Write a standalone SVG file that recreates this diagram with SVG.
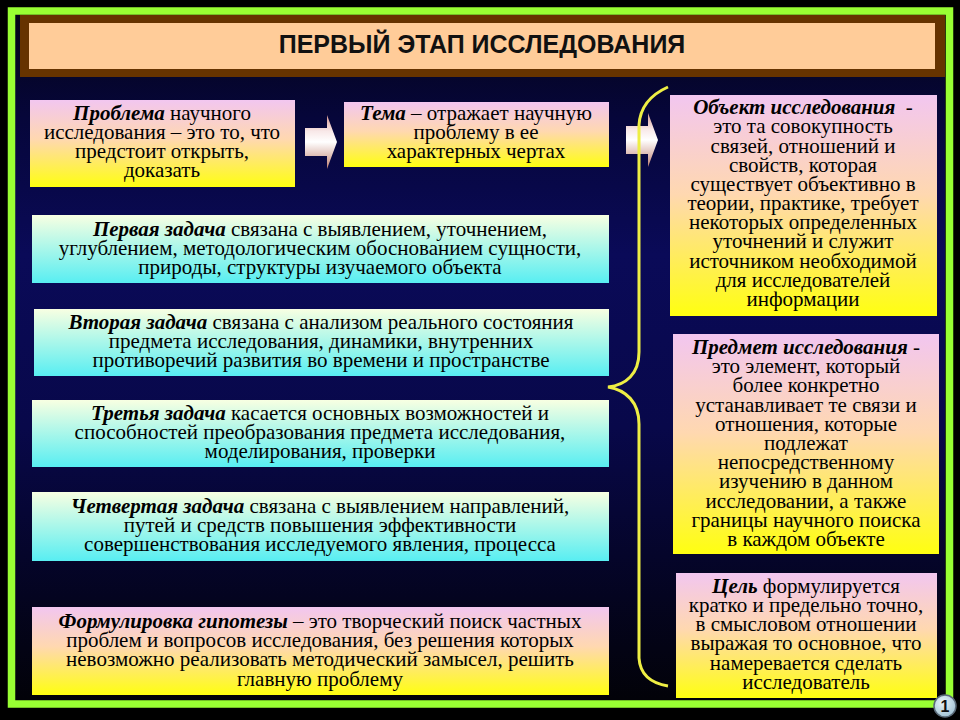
<svg xmlns="http://www.w3.org/2000/svg" width="960" height="720" viewBox="0 0 960 720">
<defs>
<linearGradient id="bg" gradientUnits="userSpaceOnUse" x1="0" y1="15" x2="0" y2="700">
<stop offset="0" stop-color="#040418"/>
<stop offset="0.15" stop-color="#06063a"/>
<stop offset="0.35" stop-color="#0a0a58"/>
<stop offset="0.6" stop-color="#08084a"/>
<stop offset="0.85" stop-color="#040420"/>
<stop offset="1" stop-color="#020208"/>
</linearGradient>
<linearGradient id="yel" x1="0" y1="0" x2="0" y2="1">
<stop offset="0" stop-color="#f2c6f0"/>
<stop offset="0.45" stop-color="#ffd8b0"/>
<stop offset="1" stop-color="#ffff10"/>
</linearGradient>
<linearGradient id="cyan" x1="0" y1="0" x2="0" y2="1">
<stop offset="0" stop-color="#f8ffe2"/>
<stop offset="1" stop-color="#58eef2"/>
</linearGradient>
<linearGradient id="arr" x1="0" y1="0" x2="0" y2="1">
<stop offset="0" stop-color="#d89890"/>
<stop offset="0.3" stop-color="#f8e8e8"/>
<stop offset="0.5" stop-color="#ffffff"/>
<stop offset="1" stop-color="#c08070"/>
</linearGradient>
<radialGradient id="badge" cx="0.4" cy="0.35" r="0.7">
<stop offset="0" stop-color="#e8f4fa"/>
<stop offset="1" stop-color="#9fc0d2"/>
</radialGradient>
<path id="arrow" d="M0,-14 L22,-14 L22,-27 L32,0 L22,27 L22,14 L0,14 Z"/>
</defs>
<style>
.t{font-family:"Liberation Serif","Times New Roman",serif;font-size:21px;fill:#000;text-anchor:middle}
.b{font-weight:bold;font-style:italic}
.title{font-family:"Liberation Sans",Arial,sans-serif;font-size:25px;font-weight:bold;fill:#111;text-anchor:middle}
.yb{fill:url(#yel)}
.cb{fill:url(#cyan)}
</style>
<rect x="0" y="0" width="960" height="720" fill="#000"/>
<rect x="15" y="15" width="930" height="685" fill="url(#bg)"/>
<rect x="11.5" y="11" width="938" height="693" fill="none" stroke="#99ff33" stroke-width="7.5"/>
<g id="title">
<rect x="20" y="15" width="925" height="62" fill="#663300"/>
<rect x="29" y="23" width="906" height="46" fill="#ffcc99"/>
<text class="title" x="482" y="53">ПЕРВЫЙ ЭТАП ИССЛЕДОВАНИЯ</text>
</g>
<g id="connectors">
<use href="#arrow" x="305" y="142" fill="url(#arr)"/>
<use href="#arrow" x="626" y="140" fill="url(#arr)"/>
<path d="M668,87 C650,95 640,108 639,125 L639,352 C639,374 626,385 608,387 C626,390 639,402 639,424 L639,658 C640,674 650,683 668,686" fill="none" stroke="#eeee44" stroke-width="3"/>
</g>
<g id="problem">
<rect class="yb" x="30" y="100" width="265" height="87"/>
<text class="t"><tspan x="162" y="120"><tspan class="b">Проблема</tspan> научного</tspan><tspan x="162" y="139">исследования – это то, что</tspan><tspan x="162" y="158">предстоит открыть,</tspan><tspan x="162" y="177">доказать</tspan></text>
</g>
<g id="tema">
<rect class="yb" x="344" y="102" width="265" height="65"/>
<text class="t"><tspan x="476" y="120"><tspan class="b">Тема</tspan> – отражает научную</tspan><tspan x="476" y="139">проблему в ее</tspan><tspan x="476" y="158">характерных чертах</tspan></text>
</g>
<g id="object">
<rect class="yb" x="670" y="95" width="267" height="221"/>
<text class="t"><tspan x="803" y="114"><tspan class="b">Объект исследования</tspan>&#160; -</tspan><tspan x="803" y="133">это та совокупность</tspan><tspan x="803" y="153">связей, отношений и</tspan><tspan x="803" y="172">свойств, которая</tspan><tspan x="803" y="191">существует объективно в</tspan><tspan x="803" y="210">теории, практике, требует</tspan><tspan x="803" y="229">некоторых определенных</tspan><tspan x="803" y="248">уточнений и служит</tspan><tspan x="803" y="268">источником необходимой</tspan><tspan x="803" y="287">для исследователей</tspan><tspan x="803" y="306">информации</tspan></text>
</g>
<g id="subject">
<rect class="yb" x="673" y="334" width="266" height="220"/>
<text class="t"><tspan x="806" y="354"><tspan class="b">Предмет исследования</tspan> -</tspan><tspan x="806" y="373">это элемент, который</tspan><tspan x="806" y="392">более конкретно</tspan><tspan x="806" y="412">устанавливает те связи и</tspan><tspan x="806" y="431">отношения, которые</tspan><tspan x="806" y="450">подлежат</tspan><tspan x="806" y="469">непосредственному</tspan><tspan x="806" y="488">изучению в данном</tspan><tspan x="806" y="508">исследовании, а также</tspan><tspan x="806" y="527">границы научного поиска</tspan><tspan x="806" y="546">в каждом объекте</tspan></text>
</g>
<g id="goal">
<rect class="yb" x="676" y="573" width="261" height="125"/>
<text class="t"><tspan x="806" y="593"><tspan class="b">Цель</tspan> формулируется</tspan><tspan x="806" y="612">кратко и предельно точно,</tspan><tspan x="806" y="631">в смысловом отношении</tspan><tspan x="806" y="650">выражая то основное, что</tspan><tspan x="806" y="670">намеревается сделать</tspan><tspan x="806" y="689">исследователь</tspan></text>
</g>
<g id="task1">
<rect class="cb" x="32" y="215" width="577" height="68"/>
<text class="t"><tspan x="320" y="236"><tspan class="b">Первая задача</tspan> связана с выявлением, уточнением,</tspan><tspan x="320" y="255">углублением, методологическим обоснованием сущности,</tspan><tspan x="320" y="274">природы, структуры изучаемого объекта</tspan></text>
</g>
<g id="task2">
<rect class="cb" x="34" y="309" width="575" height="67"/>
<text class="t"><tspan x="321" y="329"><tspan class="b">Вторая задача</tspan> связана с анализом реального состояния</tspan><tspan x="321" y="348">предмета исследования, динамики, внутренних</tspan><tspan x="321" y="367">противоречий развития во времени и пространстве</tspan></text>
</g>
<g id="task3">
<rect class="cb" x="32" y="400" width="577" height="67"/>
<text class="t"><tspan x="320" y="420"><tspan class="b">Третья задача</tspan> касается основных возможностей и</tspan><tspan x="320" y="439">способностей преобразования предмета исследования,</tspan><tspan x="320" y="458">моделирования, проверки</tspan></text>
</g>
<g id="task4">
<rect class="cb" x="32" y="492" width="577" height="69"/>
<text class="t"><tspan x="320" y="513"><tspan class="b">Четвертая задача</tspan> связана с выявлением направлений,</tspan><tspan x="320" y="532">путей и средств повышения эффективности</tspan><tspan x="320" y="551">совершенствования исследуемого явления, процесса</tspan></text>
</g>
<g id="hypothesis">
<rect class="yb" x="32" y="607" width="577" height="88"/>
<text class="t"><tspan x="320" y="628"><tspan class="b">Формулировка гипотезы</tspan> – это творческий поиск частных</tspan><tspan x="320" y="647">проблем и вопросов исследования, без решения которых</tspan><tspan x="320" y="666">невозможно реализовать методический замысел, решить</tspan><tspan x="320" y="686">главную проблему</tspan></text>
</g>
<g id="badge1">
<circle cx="945" cy="706" r="11" fill="url(#badge)" stroke="#5a6a78" stroke-width="1.5"/>
<text x="945" y="712" font-family="Liberation Sans, Arial, sans-serif" font-size="16" font-weight="bold" fill="#111" text-anchor="middle">1</text>
</g>
</svg>
